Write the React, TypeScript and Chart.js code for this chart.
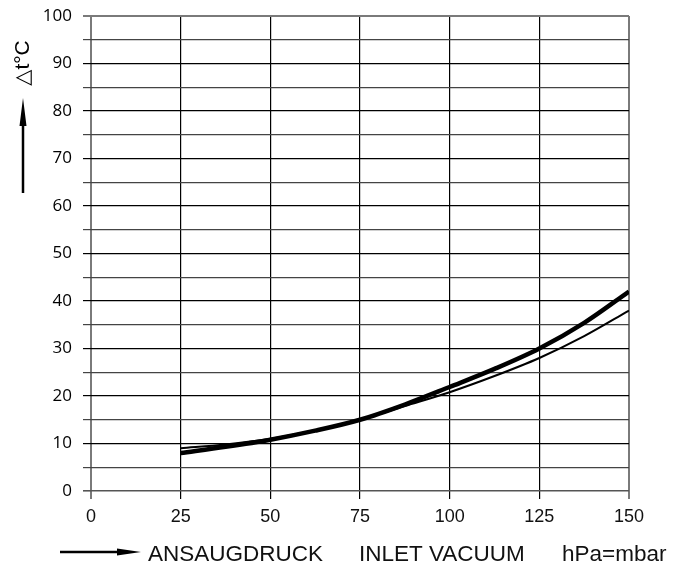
import React, { useEffect, useRef } from "react";
import { Chart, registerables } from "chart.js";

Chart.register(...registerables);

// Data
const pressure = [25, 37.5, 50, 62.5, 75, 87.5, 100, 112.5, 125, 137.5, 150];
const thickCurve = [8, 9.3, 10.8, 12.7, 15, 18.2, 21.9, 25.7, 30, 35.4, 42];
const thinCurve = [9, 9.8, 11, 12.8, 15, 17.9, 20.8, 24.2, 28, 32.6, 38];
const xTicks = [0, 25, 50, 75, 100, 125, 150];
const yTitle = "△t°C";
const xTitleParts = ["ANSAUGDRUCK", "INLET VACUUM", "hPa=mbar"];

const decorPlugin = {
  id: "decor",
  afterDraw(chart: any) {
    const ctx = chart.ctx as CanvasRenderingContext2D;
    ctx.save();
    ctx.fillStyle = "#000";
    ctx.strokeStyle = "#000";
    // Y title
    ctx.save();
    ctx.translate(23, 63);
    ctx.rotate(-Math.PI / 2);
    ctx.font = '21px "Liberation Sans", "DejaVu Sans", sans-serif';
    ctx.textAlign = "center";
    ctx.textBaseline = "middle";
    ctx.fillText(yTitle, 0, 0);
    ctx.restore();
    // Y arrow
    ctx.lineWidth = 2.5;
    ctx.beginPath();
    ctx.moveTo(23, 193);
    ctx.lineTo(23, 120);
    ctx.stroke();
    ctx.beginPath();
    ctx.moveTo(23, 98);
    ctx.lineTo(19.5, 126);
    ctx.lineTo(26.5, 126);
    ctx.closePath();
    ctx.fill();
    // X arrow
    ctx.beginPath();
    ctx.moveTo(60, 552);
    ctx.lineTo(120, 552);
    ctx.stroke();
    ctx.beginPath();
    ctx.moveTo(141, 552);
    ctx.lineTo(117, 548.5);
    ctx.lineTo(117, 555.5);
    ctx.closePath();
    ctx.fill();
    // X title
    ctx.font = '22.5px "Liberation Sans", Arial, sans-serif';
    ctx.textAlign = "left";
    ctx.textBaseline = "alphabetic";
    ctx.fillStyle = "#111";
    const xs = [148, 359, 562];
    xTitleParts.forEach((t, i) => ctx.fillText(t, xs[i], 560.5));
    ctx.restore();
  },
};

export default function App() {
  const ref = useRef<HTMLCanvasElement | null>(null);
  useEffect(() => {
    if (!ref.current) return;
    const chart = new Chart(ref.current, {
      type: "line",
      data: {
        datasets: [
          {
            data: pressure.map((x, i) => ({ x, y: thinCurve[i] })),
            borderColor: "#000",
            borderWidth: 2,
            pointRadius: 0,
            cubicInterpolationMode: "monotone",
          },
          {
            data: pressure.map((x, i) => ({ x, y: thickCurve[i] })),
            borderColor: "#000",
            borderWidth: 4.5,
            pointRadius: 0,
            cubicInterpolationMode: "monotone",
          },
        ],
      },
      options: {
        animation: false,
        responsive: false,
        layout: { padding: { left: 0, top: 16, right: 51, bottom: 0 } },
        plugins: { legend: { display: false }, tooltip: { enabled: false } },
        scales: {
          x: {
            type: "linear",
            min: 0,
            max: 150,
            afterBuildTicks(scale: any) {
              scale.ticks = xTicks.map((v) => ({ value: v }));
            },
            afterFit(scale: any) {
              scale.height = 76;
              scale.paddingLeft = 0;
              scale.paddingRight = 0;
            },
            border: { display: false },
            grid: {
              drawTicks: true,
              tickLength: 8,
              color: (c: any) =>
                c.tick && (c.tick.value === 0 || c.tick.value === 150) ? "#7a7a7a" : "#000",
              lineWidth: (c: any) =>
                c.tick && (c.tick.value === 0 || c.tick.value === 150) ? 2 : 1.2,
            },
            ticks: {
              color: "#111",
              padding: 7,
              maxRotation: 0,
              font: { family: '"Liberation Sans", Arial, sans-serif', size: 18 },
            },
          },
          y: {
            type: "linear",
            min: 0,
            max: 100,
            afterFit(scale: any) {
              scale.width = 91;
              scale.paddingTop = 0;
              scale.paddingBottom = 0;
            },
            border: { display: false },
            grid: {
              drawTicks: true,
              tickLength: 8,
              color: (c: any) => {
                const v = c.tick ? c.tick.value : 0;
                if (v === 100) return "#7a7a7a";
                if (v === 0) return "#555";
                return v % 10 === 0 ? "#000" : "#444";
              },
              lineWidth: (c: any) => {
                const v = c.tick ? c.tick.value : 0;
                if (v === 100) return 2;
                if (v === 0) return 1.6;
                return 1.2;
              },
            },
            ticks: {
              stepSize: 5,
              color: "#000",
              padding: 11,
              callback: (v: any) => (Number(v) % 10 === 0 ? String(v) : ""),
              font: { family: '"Open Sans", sans-serif', size: 17 },
            },
          },
        },
      },
      plugins: [decorPlugin],
    });
    return () => chart.destroy();
  }, []);
  return (
    <div style={{ position: "fixed", left: 0, top: 0, width: 680, height: 567, background: "#fff" }}>
      <canvas ref={ref} width={680} height={567} />
    </div>
  );
}
